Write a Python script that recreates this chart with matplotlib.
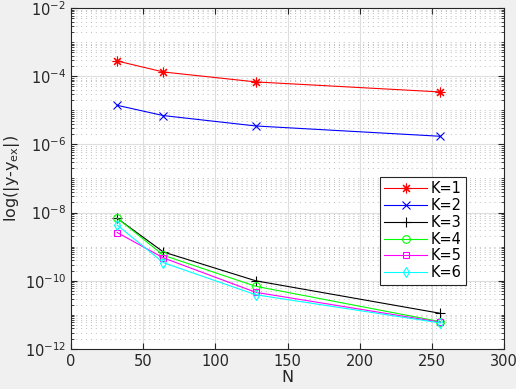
import numpy as np
import matplotlib
matplotlib.use('Agg')
import matplotlib.pyplot as plt
from matplotlib.ticker import LogLocator, NullFormatter, FixedLocator

# Data
N = [32, 64, 128, 256]
err_k1 = [2.79e-4, 1.33e-4, 6.8e-5, 3.45e-5]
err_k2 = [1.40e-5, 7.0e-6, 3.47e-6, 1.73e-6]
err_k3 = [6.8e-9, 7.0e-10, 1.0e-10, 1.11e-11]
err_k4 = [6.9e-9, 5.6e-10, 6.9e-11, 6.3e-12]
err_k5 = [2.6e-9, 4.7e-10, 4.6e-11, 6.1e-12]
err_k6 = [4.3e-9, 3.4e-10, 3.9e-11, 5.8e-12]
labels = ['K=1', 'K=2', 'K=3', 'K=4', 'K=5', 'K=6']

series = [err_k1, err_k2, err_k3, err_k4, err_k5, err_k6]
colors = ['#ff0000', '#0000ff', '#000000', '#00ff00', '#ff00ff', '#00ffff']
# MATLAB style markers: asterisk, x, plus, circle, square, diamond
markers = [(8, 2, 0), 'x', '+', 'o', 's', 'd']
sizes = [7, 5.5, 7, 5.5, 5, 5.5]

fig = plt.figure(figsize=(5.16, 3.89), dpi=100, facecolor='#f0f0f0')
ax = fig.add_axes([71/516, 40/389, 433/516, 341/389])
ax.set_facecolor('white')

for y, c, m, ms, lab in zip(series, colors, markers, sizes, labels):
    mfc = 'none' if m in ('o', 's', 'd') else c
    ax.plot(N, y, color=c, marker=m, markersize=ms,
            markerfacecolor=mfc, linewidth=0.8, markeredgewidth=0.8, label=lab)

ax.set_yscale('log')
ax.set_xlim(0, 300)
ax.set_ylim(1e-12, 1e-2)
ax.set_xticks(np.arange(0, 301, 50))
ax.yaxis.set_major_locator(FixedLocator([1e-12, 1e-10, 1e-8, 1e-6, 1e-4, 1e-2]))
ax.yaxis.set_minor_locator(LogLocator(base=10, subs=np.arange(1, 10), numticks=30))
ax.yaxis.set_minor_formatter(NullFormatter())

ax.grid(True, which='major', color='#dedede', linewidth=0.8, linestyle='-')
ax.grid(True, which='minor', axis='y', color='#bdbdbd', linewidth=0.7, linestyle=(0, (1, 4)))
ax.set_axisbelow(True)

ax.tick_params(which='both', direction='in', top=True, right=True,
               colors='#262626', labelsize=10.5, length=4)
ax.tick_params(which='minor', length=2)
for s in ax.spines.values():
    s.set_color('#262626')
    s.set_linewidth(0.8)

ax.set_xlabel('N', fontsize=11.5, color='#262626', labelpad=1)
ax.set_ylabel(r'log(|y-y$_{\mathrm{ex}}$|)', fontsize=11.5, color='#262626', labelpad=2)

leg = ax.legend(loc='upper left', bbox_to_anchor=(309/433, 172/341), fontsize=10.5,
                fancybox=False, edgecolor='#262626', framealpha=1,
                handlelength=2.9, borderpad=0.3, labelspacing=0.12,
                handletextpad=0.3, borderaxespad=0)
leg.get_frame().set_linewidth(0.8)

fig.savefig('out.png', dpi=100, facecolor=fig.get_facecolor())
